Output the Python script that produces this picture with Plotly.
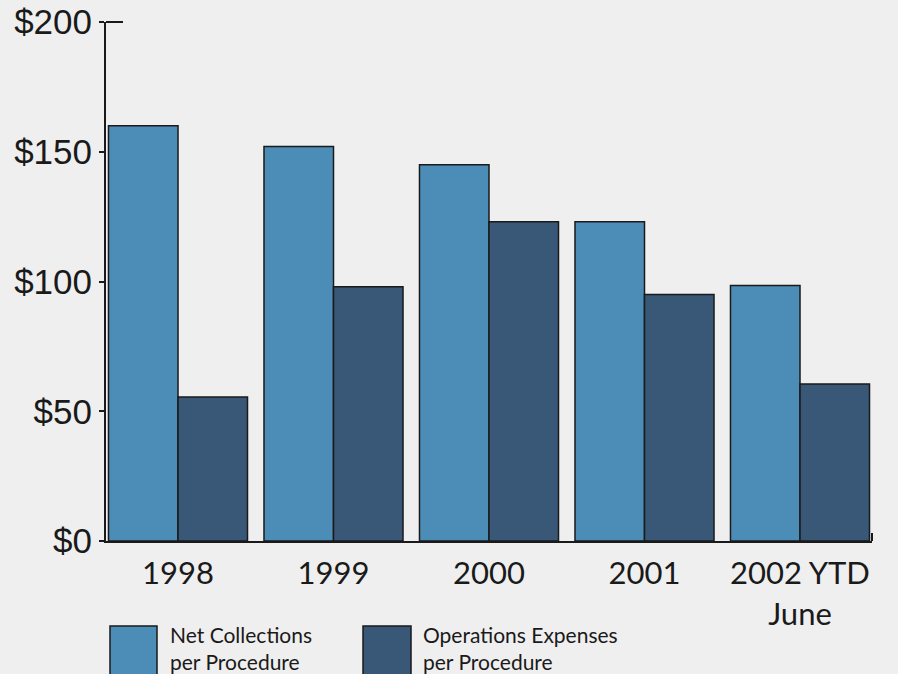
import plotly.graph_objects as go

categories = ["1998", "1999", "2000", "2001", "2002 YTD"]
tick_labels = ["1998", "1999", "2000", "2001", "2002 YTD<br>June"]
net_collections = [160, 152, 145, 123, 98.5]
operations_expenses = [55.5, 98, 123, 95, 60.5]
y_ticks = [0, 50, 100, 150, 200]
y_tick_labels = ["$0", "$50", "$100", "$150", "$200"]

NET_COLOR = "#4c8db7"
OPS_COLOR = "#395777"
BG = "#efefef"
FONT_LABEL = "Lato"

fig = go.Figure()
fig.add_trace(go.Bar(x=categories, y=net_collections, name="Net Collections per Procedure",
                     marker=dict(color=NET_COLOR, line=dict(color="#1a1a1a", width=1.5))))
fig.add_trace(go.Bar(x=categories, y=operations_expenses, name="Operations Expenses per Procedure",
                     marker=dict(color=OPS_COLOR, line=dict(color="#1a1a1a", width=1.5))))

fig.update_layout(
    width=898, height=674,
    margin=dict(l=106, r=26, t=22, b=133),
    paper_bgcolor=BG, plot_bgcolor=BG,
    barmode="group", bargap=0.106, bargroupgap=0,
    showlegend=False,
    xaxis=dict(
        type="category", range=[-0.463, 4.463], automargin=False,
        tickmode="array", tickvals=categories, ticktext=tick_labels,
        showgrid=False, showline=True, linecolor="#1a1a1a", linewidth=2,
        ticks="", ticklabelstandoff=4,
        tickfont=dict(family=FONT_LABEL, size=31, color="#1a1a1a"),
        fixedrange=True,
    ),
    yaxis=dict(
        range=[0, 200], tickmode="array", tickvals=y_ticks, ticktext=y_tick_labels,
        automargin=False,
        showgrid=False, zeroline=False, showline=True, linecolor="#1a1a1a", linewidth=2,
        ticks="outside", ticklen=5, tickwidth=2, tickcolor="#1a1a1a",
        tickfont=dict(family="Liberation Sans, Arial", size=35, color="#1a1a1a"),
        fixedrange=True,
    ),
)

# top cap of the y axis and right end tick of the baseline
fig.add_shape(type="line", xref="paper", yref="paper", x0=0, x1=17/766, y0=1, y1=1,
              line=dict(color="#1a1a1a", width=2))
fig.add_shape(type="line", xref="paper", yref="paper", x0=1, x1=1, y0=0, y1=8/519,
              line=dict(color="#1a1a1a", width=2))

# legend drawn manually
def px_x(x):
    return (x - 106) / 766

def px_y(y):
    return (541 - y) / 519

for (x0, x1, col, label, tx) in [
    (110, 157, NET_COLOR, "Net Collections<br>per Procedure", 168),
    (363, 411, OPS_COLOR, "Operations Expenses<br>per Procedure", 421),
]:
    fig.add_shape(type="rect", xref="paper", yref="paper",
                  x0=px_x(x0), x1=px_x(x1), y0=px_y(676), y1=px_y(626),
                  fillcolor=col, line=dict(color="#1a1a1a", width=1.5))
    fig.add_annotation(xref="paper", yref="paper", x=px_x(tx), y=px_y(620),
                       text=label, showarrow=False, xanchor="left", yanchor="top",
                       align="left",
                       font=dict(family=FONT_LABEL, size=21, color="#1a1a1a"))

fig.write_html("out.html", config={"displayModeBar": False},
               post_script="document.body.style.margin='0';")
